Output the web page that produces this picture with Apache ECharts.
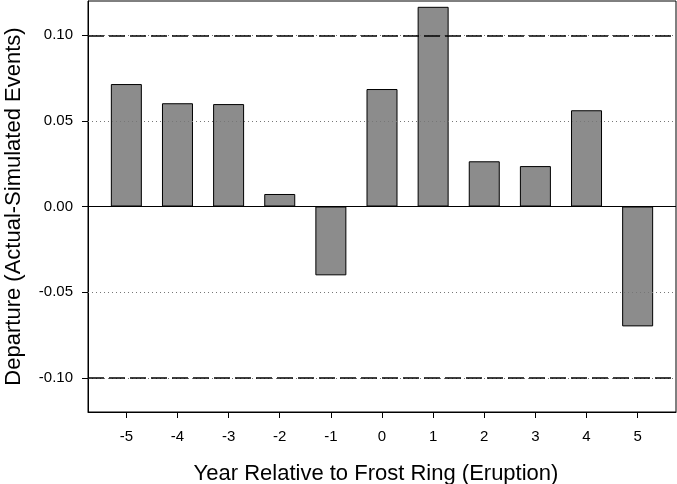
<!DOCTYPE html>
<html>
<head>
<meta charset="utf-8">
<script src="https://cdn.jsdelivr.net/npm/echarts@6/dist/echarts.min.js"></script>
<style>
  html, body { margin: 0; padding: 0; background: #fff; }
  #chart { width: 677px; height: 484px; }
</style>
</head>
<body>
<div id="chart"></div>
<script>
const years = [-5, -4, -3, -2, -1, 0, 1, 2, 3, 4, 5]
const departures = [0.0715, 0.0603, 0.0598, 0.0073, -0.0402, 0.0686, 0.1166, 0.0264, 0.0236, 0.0562, -0.0700]
const yTicks = [-0.10, -0.05, 0.00, 0.05, 0.10]
const dottedLines = [-0.10, -0.05, 0.05, 0.10]
const dashedLines = [-0.0993, 0.0993]

const chart = echarts.init(document.getElementById('chart'))
const font = 'Liberation Sans, Arial, sans-serif'

const markData = []
dottedLines.forEach(v => markData.push({
  yAxis: v,
  lineStyle: { color: '#777', width: 1, type: [1, 3] }
}))
dashedLines.forEach(v => markData.push({
  yAxis: v,
  lineStyle: { color: '#000', width: 1.5, type: [16, 5] }
}))
markData.push({ yAxis: 0, lineStyle: { color: '#000', width: 1, type: 'solid' } })

chart.setOption({
  animation: false,
  grid: {
    left: 88, right: 1, top: 1, bottom: 72,
    outerBoundsMode: 'none',
    containLabel: false,
    show: true, borderColor: '#000', borderWidth: 1
  },
  xAxis: {
    type: 'value',
    min: -5.75,
    max: 5.75,
    name: 'Year Relative to Frost Ring (Eruption)',
    nameLocation: 'middle',
    nameGap: 51,
    nameTextStyle: { fontFamily: font, fontSize: 22, color: '#000', padding: [0, 12, 0, 0] },
    axisLine: { onZero: false, lineStyle: { color: '#000' } },
    axisTick: { customValues: years, length: 6, lineStyle: { color: '#000' } },
    axisLabel: {
      customValues: years, margin: 17,
      fontFamily: font, fontSize: 15, color: '#000'
    },
    splitLine: { show: false }
  },
  yAxis: {
    type: 'value',
    min: -0.12,
    max: 0.12,
    name: 'Departure (Actual-Simulated Events)',
    nameLocation: 'middle',
    nameGap: 63,
    nameTextStyle: { fontFamily: font, fontSize: 22, color: '#000' },
    axisLine: { onZero: false, lineStyle: { color: '#000' } },
    axisTick: { customValues: yTicks, length: 6, lineStyle: { color: '#000' } },
    axisLabel: {
      customValues: yTicks, margin: 15,
      fontFamily: font, fontSize: 15, color: '#000',
      formatter: v => v.toFixed(2)
    },
    splitLine: { show: false }
  },
  series: [
    {
      type: 'bar',
      data: years.map((y, i) => [y, departures[i]]),
      barWidth: 31,
      itemStyle: { color: '#8c8c8c', borderColor: '#000', borderWidth: 1 },
      markLine: {
        silent: true,
        symbol: 'none',
        label: { show: false },
        data: markData
      }
    }
  ]
})
</script>
</body>
</html>
